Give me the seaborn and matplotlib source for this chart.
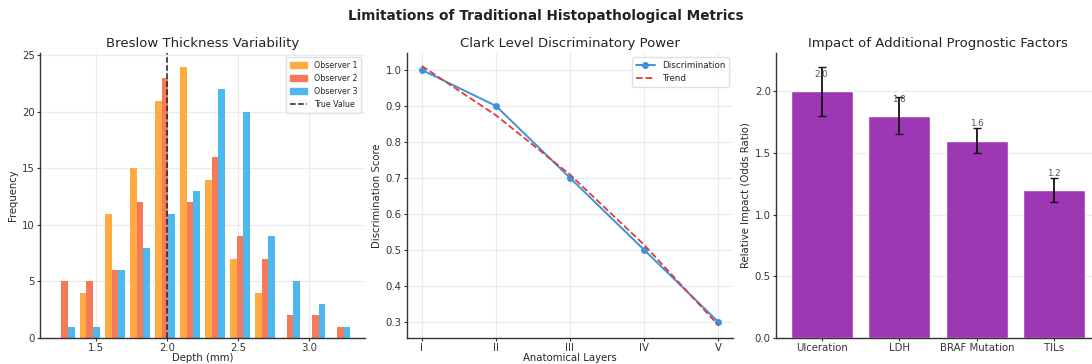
import numpy as np
import pandas as pd
import matplotlib
matplotlib.use("Agg")
import matplotlib.pyplot as plt
from matplotlib.patches import Patch
from matplotlib.lines import Line2D
import seaborn as sns

# --- data ---
bin_edges = np.linspace(1.19, 3.31, 13).tolist()
observer_1 = [0, 4, 11, 15, 21, 24, 14, 7, 4, 0, 0, 0]
observer_2 = [5, 5, 6, 12, 23, 12, 16, 9, 7, 2, 2, 1]
observer_3 = [1, 1, 6, 8, 11, 13, 22, 20, 9, 5, 3, 1]
true_value = 2.0

clark_levels = ["I", "II", "III", "IV", "V"]
discrimination = [1.0, 0.9, 0.7, 0.5, 0.3]
trend = [1.011, 0.874, 0.709, 0.514, 0.291]

factors = ["Ulceration", "LDH", "BRAF Mutation", "TILs"]
odds_ratio = [2.0, 1.8, 1.6, 1.2]
odds_err = [0.2, 0.15, 0.1, 0.1]

obs_colors = {"Observer 1": "#FFAB42", "Observer 2": "#F57A5A", "Observer 3": "#4DB8EF"}

sns.set_style("whitegrid", {
    "grid.color": "#ebebeb",
    "axes.edgecolor": "#333333",
    "xtick.bottom": True,
    "ytick.left": True,
})
plt.rcParams["font.family"] = ["DejaVu Sans"]
plt.rcParams["xtick.major.size"] = 2.5
plt.rcParams["ytick.major.size"] = 2.5
plt.rcParams["xtick.color"] = "#333333"
plt.rcParams["ytick.color"] = "#333333"

fig, axes = plt.subplots(1, 3, figsize=(10.92, 3.64), dpi=100)
W, H = 1092, 364
boxes = [(40, 365), (407, 733), (776, 1100)]
for ax, (x0, x1) in zip(axes, boxes):
    ax.set_position([x0 / W, 1 - 338 / H, (x1 - x0) / W, (338 - 53) / H])
    for s in ["top", "right"]:
        ax.spines[s].set_visible(False)
    ax.spines["left"].set_linewidth(1.0)
    ax.spines["bottom"].set_linewidth(1.0)
    ax.tick_params(labelsize=7.3, pad=1.2, width=0.8)

# --- panel 1: Breslow thickness histogram ---
centers = [(a + b) / 2 for a, b in zip(bin_edges[:-1], bin_edges[1:])]
rows = []
for name, counts in zip(obs_colors, [observer_1, observer_2, observer_3]):
    for c, n in zip(centers, counts):
        rows.append({"depth": c, "count": n, "observer": name})
df_hist = pd.DataFrame(rows)

ax = axes[0]
sns.histplot(data=df_hist, x="depth", weights="count", hue="observer",
             hue_order=list(obs_colors), palette=obs_colors, bins=bin_edges,
             multiple="dodge", shrink=0.8, alpha=1, linewidth=0, legend=False, ax=ax)
ax.axvline(true_value, color="#222222", linestyle="--", linewidth=1.1)
ax.set_xticks([1.5, 2.0, 2.5, 3.0])
ax.set_title("Breslow Thickness Variability", fontsize=9.5, color="#222222", pad=4)
ax.set_xlabel("Depth (mm)", fontsize=7.3, labelpad=0)
ax.set_ylabel("Frequency", fontsize=7.3, labelpad=3)
handles = [Patch(color=c, label=k) for k, c in obs_colors.items()]
handles.append(Line2D([], [], color="#222222", linestyle="--", linewidth=1.1, label="True Value"))
ax.legend(handles=handles, loc="upper right", fontsize=5.7, frameon=True,
          framealpha=0.9, edgecolor="#dddddd", handlelength=2.2, borderpad=0.5)

# --- panel 2: Clark level ---
df_clark = pd.DataFrame({"level": clark_levels, "discrimination": discrimination, "trend": trend})
ax = axes[1]
sns.lineplot(data=df_clark, x="level", y="discrimination", marker="o", markersize=5,
             markeredgewidth=0, color="#3B93DE", linewidth=1.4, sort=False,
             label="Discrimination", ax=ax)
sns.lineplot(data=df_clark, x="level", y="trend", color="#E23A3A", linestyle="--",
             linewidth=1.3, sort=False, label="Trend", ax=ax)
ax.set_title("Clark Level Discriminatory Power", fontsize=9.5, color="#222222", pad=4)
ax.set_xlabel("Anatomical Layers", fontsize=7.3, labelpad=0)
ax.set_ylabel("Discrimination Score", fontsize=7.3, labelpad=3)
ax.legend(loc="upper right", fontsize=6.3, frameon=True, framealpha=0.9,
          edgecolor="#dddddd", handlelength=2.2)

# --- panel 3: additional prognostic factors ---
df_fac = pd.DataFrame({"factor": factors, "odds": odds_ratio, "err": odds_err})
ax = axes[2]
sns.barplot(data=df_fac, x="factor", y="odds", color="#9E37B4", saturation=1,
            width=0.8, errorbar=None, ax=ax)
ax.errorbar(range(len(factors)), odds_ratio, yerr=odds_err, fmt="none",
            ecolor="#111111", elinewidth=1.3, capsize=3, capthick=1)
for i, v in enumerate(odds_ratio):
    ax.text(i, v + 0.1, f"{v:.1f}", ha="center", va="bottom", fontsize=6.3, color="#555555")
ax.set_xlim(-0.59, len(factors) - 0.41)
ax.set_title("Impact of Additional Prognostic Factors", fontsize=9.5, color="#222222", pad=4)
ax.set_xlabel("")
ax.set_ylabel("Relative Impact (Odds Ratio)", fontsize=7.3, labelpad=3)
ax.set_yticks([0.0, 0.5, 1.0, 1.5, 2.0])

fig.suptitle("Limitations of Traditional Histopathological Metrics", fontsize=9.8,
             fontweight="bold", color="#222222", y=0.975)

fig.savefig("out.png", dpi=100)
